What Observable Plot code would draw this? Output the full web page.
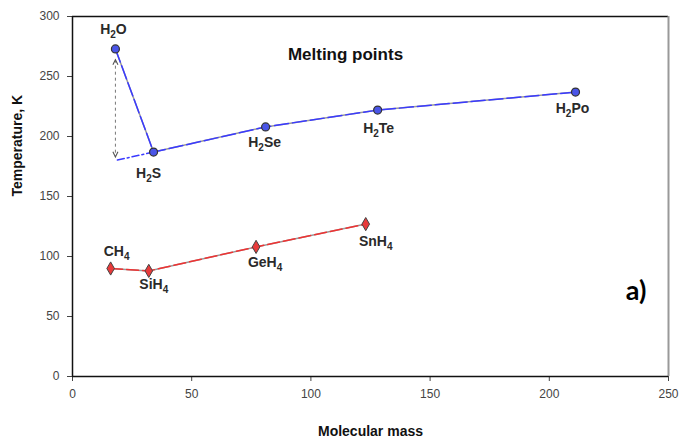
<!DOCTYPE html>
<html>
<head>
<meta charset="utf-8">
<script src="https://cdn.jsdelivr.net/npm/d3@7"></script>
<script src="https://cdn.jsdelivr.net/npm/@observablehq/plot@0.6"></script>
<style>
  html, body { margin: 0; padding: 0; background: #fff; }
  svg { display: block; }
</style>
</head>
<body>
<div id="chart"></div>
<script>
// ---- data ----
const blueNames = ["H₂O", "H₂S", "H₂Se", "H₂Te", "H₂Po"];
const blueMass  = [18, 34, 81, 128, 211];
const blueMelt  = [273, 187, 208, 222, 237];

const redNames = ["CH₄", "SiH₄", "GeH₄", "SnH₄"];
const redMass  = [16, 32, 77, 123];
const redMelt  = [90, 88, 108, 127];

const extrapMass = [34, 18];
const extrapMelt = [187, 180];

const arrowMass = [18];
const arrowFrom = [264];
const arrowTo   = [183];

const xTicks = [0, 50, 100, 150, 200, 250];
const yTicks = [0, 50, 100, 150, 200, 250, 300];

const titleText = "Melting points";
const panelText = "a)";
const xLabel = "Molecular mass";
const yLabel = "Temperature, K";

// ---- label offsets (style) ----
const labelOffsets = {
  "H₂O": [-2, -19], "H₂S": [-5, 21], "H₂Se": [-1, 16], "H₂Te": [1, 18], "H₂Po": [-3, 16],
  "CH₄": [6, -17], "SiH₄": [5, 14], "GeH₄": [9, 16], "SnH₄": [10, 17]
};

const blue = blueNames.map((n, i) => ({name: n, x: blueMass[i], y: blueMelt[i]}));
const red = redNames.map((n, i) => ({name: n, x: redMass[i], y: redMelt[i]}));
const extrap = extrapMass.map((m, i) => ({x: m, y: extrapMelt[i]}));
const arrows = arrowMass.map((m, i) => ({x: m, y1: arrowFrom[i], y2: arrowTo[i]}));
const heads = arrows.flatMap(d => [{x: d.x, y: d.y1, rot: 0}, {x: d.x, y: d.y2, rot: 180}]);

// open chevron symbol with tip at the origin
const chevron = {
  draw(context, size) {
    const k = Math.sqrt(size) / 1.4;
    context.moveTo(-0.5 * k, k);
    context.lineTo(0, 0);
    context.lineTo(0.5 * k, k);
  }
};

const labelFont = "Liberation Sans, Arial, sans-serif";
const labelMarks = [...blue, ...red].map(d => Plot.text([d], {
  x: "x", y: "y", text: "name",
  dx: labelOffsets[d.name][0], dy: labelOffsets[d.name][1],
  fontWeight: "bold", fontSize: 14, fill: "#2a2a2a", fontFamily: labelFont,
  className: "chem-label"
}));

const chart = Plot.plot({
  width: 683,
  height: 443,
  marginLeft: 72,
  marginRight: 15,
  marginTop: 16,
  marginBottom: 67,
  style: {fontFamily: labelFont, background: "#fff"},
  x: {domain: [0, 250]},
  y: {domain: [0, 300]},
  marks: [
    // frame
    Plot.ruleY([300], {stroke: "#111", strokeWidth: 1.5}),
    Plot.ruleX([250], {stroke: "#999", strokeWidth: 2}),
    // axes
    Plot.axisX({ticks: xTicks, tickSize: 5, tickPadding: 8, fontSize: 12, color: "#444", label: null}),
    Plot.axisY({ticks: yTicks, tickSize: 5, tickPadding: 8, fontSize: 12, color: "#444", label: null}),
    Plot.ruleX([0], {stroke: "#111", strokeWidth: 1.5}),
    Plot.ruleY([0], {stroke: "#111", strokeWidth: 1.5}),
    // double-headed dashed arrow
    Plot.link(arrows, {x1: "x", x2: "x", y1: "y1", y2: "y2", stroke: "#777", strokeWidth: 1, strokeDasharray: "3,3"}),
    Plot.dot(heads, {x: "x", y: "y", rotate: "rot", symbol: chevron, r: 4, fill: "none", stroke: "#555", strokeWidth: 1.1}),
    // extrapolation
    Plot.line(extrap, {x: "x", y: "y", stroke: "#3a3aff", strokeWidth: 1.5, strokeDasharray: "7,3,2,3"}),
    // blue series
    Plot.line(blue, {x: "x", y: "y", stroke: "#999", strokeWidth: 1.5}),
    Plot.line(blue, {x: "x", y: "y", stroke: "#3a3aff", strokeWidth: 1.5, strokeDasharray: "14,4"}),
    Plot.dot(blue, {x: "x", y: "y", r: 4, fill: "#4a55e8", stroke: "#333", strokeWidth: 1.2}),
    // red series
    Plot.line(red, {x: "x", y: "y", stroke: "#999", strokeWidth: 1.5}),
    Plot.line(red, {x: "x", y: "y", stroke: "#ee3333", strokeWidth: 1.5, strokeDasharray: "12,4"}),
    Plot.dot(red, {x: "x", y: "y", r: 4, symbol: "diamond", fill: "#e83a3a", stroke: "#444", strokeWidth: 1}),
    // labels
    ...labelMarks,
    // title & annotations
    Plot.text([titleText], {frameAnchor: "top", dx: -25, dy: 31, fontWeight: "bold", fontSize: 17, fill: "#111"}),
    Plot.text([panelText], {frameAnchor: "bottom-right", textAnchor: "end", dx: -22, dy: -77, fontWeight: "bold", fontSize: 27, fill: "#000", fontFamily: "Lato, sans-serif"}),
    Plot.text([xLabel], {frameAnchor: "bottom", dy: 59, fontWeight: "bold", fontSize: 14, fill: "#111"}),
    Plot.text([yLabel], {frameAnchor: "left", dx: -55, rotate: -90, fontWeight: "bold", fontSize: 14, fill: "#111"})
  ]
});

// render Unicode subscript digits as real lowered, smaller digits
const subMap = {"₀":"0","₁":"1","₂":"2","₃":"3","₄":"4","₅":"5","₆":"6","₇":"7","₈":"8","₉":"9"};
const NS = "http://www.w3.org/2000/svg";
chart.querySelectorAll("g.chem-label text").forEach(t => {
  const s = t.textContent;
  if (!/[₀-₉]/.test(s)) return;
  t.textContent = "";
  let shifted = false;
  for (const ch of s) {
    const span = document.createElementNS(NS, "tspan");
    if (subMap[ch]) {
      span.textContent = subMap[ch];
      span.setAttribute("font-size", "10");
      if (!shifted) { span.setAttribute("dy", "4"); shifted = true; }
    } else {
      span.textContent = ch;
      if (shifted) { span.setAttribute("dy", "-4"); shifted = false; }
    }
    t.appendChild(span);
  }
});

document.getElementById("chart").appendChild(chart);
</script>
</body>
</html>
